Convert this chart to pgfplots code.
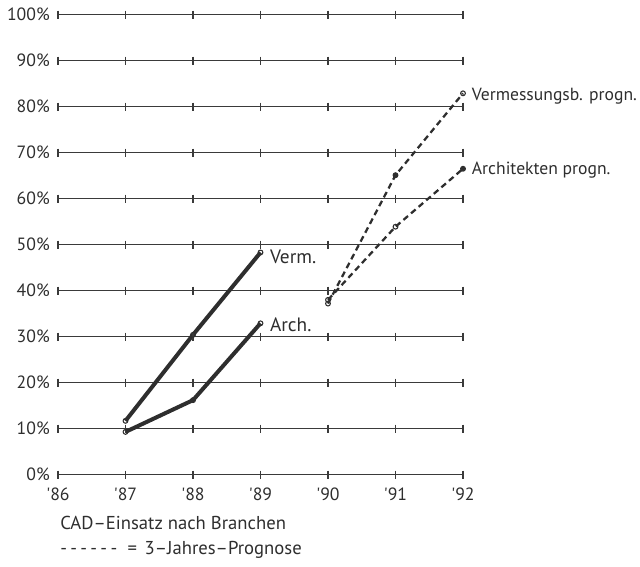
\documentclass[border=0pt]{standalone}
\usepackage{pgfplots}
\pgfplotsset{compat=1.18}
\usepackage{fontspec}
\setmainfont{PT Sans}

\definecolor{ink}{HTML}{2E2E2E}
\definecolor{gridc}{HTML}{3A3A3A}

\begin{document}
\begin{tikzpicture}
\begin{axis}[
    scale only axis,
    width=303.75pt, height=345pt,
    xmin=86, xmax=92, ymin=0, ymax=100,
    axis line style={draw=none},
    major tick length=0pt,
    xtick={86,...,92},
    xticklabels={{\textquotesingle}86,{\textquotesingle}87,{\textquotesingle}88,{\textquotesingle}89,{\textquotesingle}90,{\textquotesingle}91,{\textquotesingle}92},
    ytick={0,10,...,100},
    yticklabels={0\%,10\%,20\%,30\%,40\%,50\%,60\%,70\%,80\%,90\%,100\%},
    tick label style={font=\fontsize{13.3}{16}\selectfont, text=ink},
    yticklabel style={anchor=east, inner sep=0pt, xshift=-6pt},
    xticklabel style={anchor=base, inner sep=0pt, yshift=-19.5pt},
    clip=false,
]
% gridlines with small ticks at every year
\pgfplotsinvokeforeach{0,10,...,100}{
    \addplot[gridc, line width=0.9pt, mark=|, mark size=3pt,
        mark options={line width=0.9pt}]
        coordinates {(86,#1)(87,#1)(88,#1)(89,#1)(90,#1)(91,#1)(92,#1)};
}

% actual values
\addplot[ink, line width=3pt, mark=o, mark size=1.8pt,
    mark options={fill=white, line width=0.8pt}]
    coordinates {(87,11.7)(88,30.4)(89,48.3)};
\addplot[ink, line width=3pt, mark=o, mark size=1.8pt,
    mark options={fill=white, line width=0.8pt}]
    coordinates {(87,9.3)(88,16.2)(89,32.9)};

% 3-year forecasts
\addplot[ink, line width=1.7pt, dash pattern=on 4.5pt off 3pt, mark=o, mark size=1.8pt,
    mark options={solid, fill=white, line width=0.8pt}]
    coordinates {(90,37.2)(91,65.1)(92,82.9)};
\addplot[ink, line width=1.7pt, dash pattern=on 4.5pt off 3pt, mark=o, mark size=1.8pt,
    mark options={solid, fill=white, line width=0.8pt}]
    coordinates {(90,38.0)(91,53.9)(92,66.5)};
\addplot[ink, only marks, mark=*, mark size=1.6pt]
    coordinates {(91,65.1)(92,66.5)};

\node[anchor=west, inner sep=0pt, text=ink, font=\fontsize{14.5}{17}\selectfont]
    at ([xshift=7pt,yshift=-3pt]axis cs:89,48.3) {Verm.};
\node[anchor=west, inner sep=0pt, text=ink, font=\fontsize{14.5}{17}\selectfont]
    at ([xshift=7pt,yshift=-1pt]axis cs:89,32.9) {Arch.};
\node[anchor=west, inner sep=0pt, text=ink, font=\fontsize{13.2}{15}\selectfont]
    at ([xshift=6.5pt,yshift=-2pt]axis cs:92,82.9) {Vermessungsb. progn.};
\node[anchor=west, inner sep=0pt, text=ink, font=\fontsize{13.2}{15}\selectfont]
    at ([xshift=6.5pt,yshift=-1pt]axis cs:92,66.5) {Architekten progn.};

\node[anchor=base west, inner sep=0pt, text=ink, font=\fontsize{14}{16}\selectfont]
    at ([xshift=1.5pt,yshift=-41pt]rel axis cs:0,0) {CAD–Einsatz nach Branchen};
\node[anchor=base west, inner sep=0pt, text=ink, font=\fontsize{14}{16}\selectfont]
    at ([xshift=1.5pt,yshift=-59.5pt]rel axis cs:0,0)
    {-\kern2.5pt-\kern2.5pt-\kern2.5pt-\kern2.5pt-\kern2.5pt-\kern4pt{} = \kern2pt3–Jahres–Prognose};

\coordinate (sw) at (rel axis cs:0,0);
\coordinate (ne) at (rel axis cs:1,1);
\end{axis}
\pgfresetboundingbox
\path[use as bounding box] ([shift={(-43.5pt,-69pt)}]sw) rectangle ([shift={(132.75pt,11pt)}]ne);
\end{tikzpicture}
\end{document}
